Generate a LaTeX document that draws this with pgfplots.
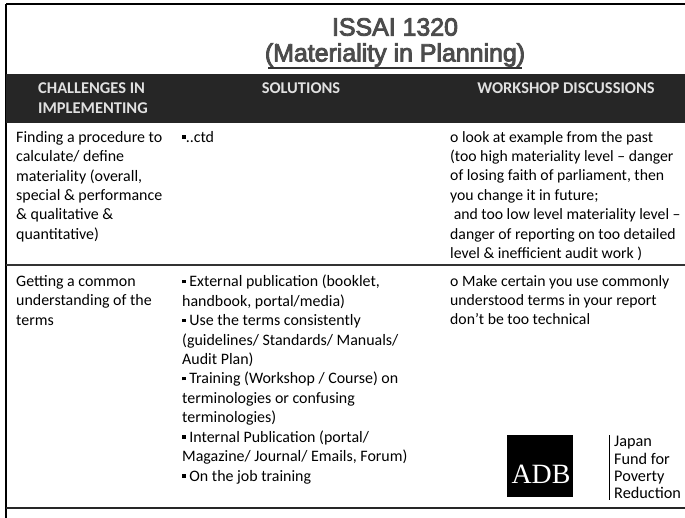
\documentclass[border=0pt]{standalone}
\usepackage{pgfplots}
\pgfplotsset{compat=1.18}
\usepackage{fontspec}
\setmainfont{Carlito}
\newfontfamily\arialf[FakeBold=3.5]{Liberation Sans}
\newfontfamily\serf{Liberation Serif}
\newcommand\sq{\raisebox{0.22em}{\rule{3.6pt}{3.6pt}}}
\begin{document}
\begin{tikzpicture}
\useasboundingbox (0,0) rectangle (685bp,518bp);
\clip (0,0) rectangle (685bp,518bp);
\begin{axis}[
  width=685bp, height=518bp, scale only axis,
  xmin=0, xmax=685, ymin=0, ymax=518, y dir=reverse,
  hide axis, clip=false,
]
\fill[white] (axis cs:0,0) rectangle (axis cs:685,518);
\addplot[draw=none] coordinates {(0,0) (685,518)};
% frame lines
\draw[black, line width=1.6bp] (axis cs:6,4) -- (axis cs:685,4);
\draw[black, line width=1.2bp] (axis cs:6,4) -- (axis cs:6,518);
\draw[black!80, line width=1.2bp] (axis cs:6,265) -- (axis cs:685,265);
\draw[black!85, line width=1.4bp] (axis cs:6,508) -- (axis cs:685,508);
% title
\node[font=\arialf\fontsize{25}{30}\selectfont, text=black!70] at (axis cs:395,27) {ISSAI 1320};
\node[font=\arialf\fontsize{25}{30}\selectfont, text=black!70] at (axis cs:395,55) {(Materiality in Planning)};
\draw[black!80, line width=1.4bp] (axis cs:268,68) -- (axis cs:522,68);
% header band
\fill[black!85] (axis cs:6,74) rectangle (axis cs:685,123);
\node[anchor=west, inner sep=0, align=left, text=white!88!black,
  font=\bfseries\fontsize{16.5}{20.5}\selectfont] at (axis cs:38,98) {CHALLENGES IN\\IMPLEMENTING};
\node[inner sep=0, text=white!88!black,
  font=\bfseries\fontsize{16.5}{20.5}\selectfont] at (axis cs:301,88) {SOLUTIONS};
\node[inner sep=0, text=white!88!black,
  font=\bfseries\fontsize{16.5}{20.5}\selectfont] at (axis cs:566,88) {WORKSHOP DISCUSSIONS};
% row 1
\node[anchor=north west, inner sep=0, align=left, font=\fontsize{16}{19.5}\selectfont]
  at (axis cs:16,131) {Finding a procedure to\\calculate/ define\\materiality (overall,\\special \& performance\\\& qualitative \&\\quantitative)};
\node[anchor=north west, inner sep=0, align=left, font=\fontsize{16}{19.5}\selectfont]
  at (axis cs:182,131) {\sq..ctd};
\node[anchor=north west, inner sep=0, align=left, font=\fontsize{15.8}{19.5}\selectfont]
  at (axis cs:450,131) {o look at example from the past\\(too high materiality level -- danger\\of losing faith of parliament, then\\you change it in future;\\\ and too low level materiality level --\\danger of reporting on too detailed\\level \& inefficient audit work )};
% row 2
\node[anchor=north west, inner sep=0, align=left, font=\fontsize{16}{19.5}\selectfont]
  at (axis cs:16,275) {Getting a common\\understanding of the\\terms};
\node[anchor=north west, inner sep=0, align=left, font=\fontsize{16}{19.5}\selectfont]
  at (axis cs:182,275) {\sq\ External publication (booklet,\\handbook, portal/media)\\\sq\ Use the terms consistently\\(guidelines/ Standards/ Manuals/\\Audit Plan)\\\sq\ Training (Workshop / Course) on\\terminologies or confusing\\terminologies)\\\sq\ Internal Publication (portal/\\Magazine/ Journal/ Emails, Forum)\\\sq\ On the job training};
\node[anchor=north west, inner sep=0, align=left, font=\fontsize{15.8}{19.5}\selectfont]
  at (axis cs:450,275) {o Make certain you use commonly\\understood terms in your report\\don't be too technical};
% logo
\fill[black] (axis cs:507,435) rectangle (axis cs:573,497);
\node[text=white, font=\serf\fontsize{28}{30}\selectfont] at (axis cs:541,474) {ADB};
\draw[black, line width=0.8bp] (axis cs:609,435) -- (axis cs:609,500);
\node[anchor=north west, inner sep=0, align=left, font=\fontsize{16.3}{17.5}\selectfont]
  at (axis cs:614,436) {Japan\\Fund for\\Poverty\\Reduction};
\end{axis}
\end{tikzpicture}
\end{document}
